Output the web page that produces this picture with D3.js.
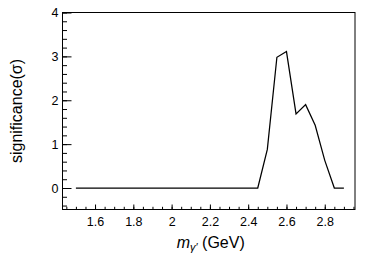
<!DOCTYPE html>
<html>
<head>
<meta charset="utf-8">
<script src="https://cdn.jsdelivr.net/npm/d3@7"></script>
<style>
  body { margin: 0; background: #fff; }
  text { font-family: "Liberation Sans", Arial, sans-serif; }
</style>
</head>
<body>
<div id="chart"></div>
<script>

// mass points (GeV) and significance values
var massValues = [1.5, 1.55, 1.6, 1.65, 1.7, 1.75, 1.8, 1.85, 1.9, 1.95,
                  2.0, 2.05, 2.1, 2.15, 2.2, 2.25, 2.3, 2.35, 2.4, 2.45,
                  2.5, 2.55, 2.6, 2.65, 2.7, 2.75, 2.8, 2.85, 2.9];
var significance = [0, 0, 0, 0, 0, 0, 0, 0, 0, 0,
                    0, 0, 0, 0, 0, 0, 0, 0, 0, 0,
                    0.88, 2.98, 3.11, 1.69, 1.90, 1.43, 0.63, 0, 0];

var xTickLabels = [1.6, 1.8, 2.0, 2.2, 2.4, 2.6, 2.8];
var yTickLabels = [0, 1, 2, 3, 4];

var svgWidth = 374;
var svgHeight = 253;

var chartMargin = {
top: 12.5,
right: 19,
bottom: 43.5,
left: 62.5
};

var chartWidth = svgWidth - chartMargin.left - chartMargin.right;
var chartHeight = svgHeight - chartMargin.top - chartMargin.bottom;

var svg = d3.select("#chart")
            .append("svg")
            .attr("width", svgWidth)
            .attr("height", svgHeight);

var chartGroup = svg.append("g")
                    .attr("transform", `translate(${chartMargin.left}, ${chartMargin.top})`);

var xLinearScale = d3.scaleLinear()
                     .domain([1.43, 2.958])
                     .range([0, chartWidth]);

var yLinearScale = d3.scaleLinear()
                     .domain([-0.49, 4])
                     .range([chartHeight, 0]);

// minor ticks
var xMinor = d3.range(1.45, 2.951, 0.05);
var yMinor = d3.range(-0.4, 4.001, 0.2);

chartGroup.append("g")
          .attr("transform", `translate(0, ${chartHeight})`)
          .call(d3.axisBottom(xLinearScale).tickValues(xMinor).tickSize(-2.7).tickFormat(""))
          .call(g => g.select(".domain").remove());

chartGroup.append("g")
          .call(d3.axisLeft(yLinearScale).tickValues(yMinor).tickSize(-4.5).tickFormat(""))
          .call(g => g.select(".domain").remove());

// major ticks + labels
var xAxis = chartGroup.append("g")
                      .attr("transform", `translate(0, ${chartHeight})`)
                      .call(d3.axisBottom(xLinearScale)
                              .tickValues(xTickLabels)
                              .tickSize(-5)
                              .tickPadding(7.5)
                              .tickFormat(d3.format("")));
xAxis.select(".domain").remove();

var yAxis = chartGroup.append("g")
                      .call(d3.axisLeft(yLinearScale)
                              .tickValues(yTickLabels)
                              .tickSize(-9)
                              .tickPadding(4)
                              .tickFormat(d3.format("")));
yAxis.select(".domain").remove();

svg.selectAll(".tick text")
   .attr("font-size", "12.5px")
   .attr("fill", "#000");
svg.selectAll(".tick line")
   .attr("stroke", "#000");

// frame
chartGroup.append("rect")
          .attr("x", 0)
          .attr("y", 0)
          .attr("width", chartWidth)
          .attr("height", chartHeight)
          .attr("fill", "none")
          .attr("stroke", "#000")
          .attr("stroke-width", 1);

// significance line
var points = massValues.map((m, i) => [m, significance[i]]);
var line = d3.line()
             .x(d => xLinearScale(d[0]))
             .y(d => yLinearScale(d[1]));

chartGroup.append("path")
          .datum(points)
          .attr("d", line)
          .attr("fill", "none")
          .attr("stroke", "#000")
          .attr("stroke-width", 1.25)
          .attr("stroke-linejoin", "miter");

// axis titles
var xTitle = svg.append("text")
                .attr("x", chartMargin.left + chartWidth / 2 + 2)
                .attr("y", 247.5)
                .attr("text-anchor", "middle")
                .attr("font-size", "16px");
xTitle.append("tspan").attr("font-style", "italic").text("m");
xTitle.append("tspan").attr("font-style", "italic").attr("font-size", "11px").attr("dy", 3).text("γ′");
xTitle.append("tspan").attr("dy", -3).text(" (GeV)");

svg.append("text")
   .attr("transform", `translate(22, ${chartMargin.top + chartHeight / 2}) rotate(-90)`)
   .attr("text-anchor", "middle")
   .attr("font-size", "16px")
   .text("significance(σ)");

</script>
</body>
</html>
